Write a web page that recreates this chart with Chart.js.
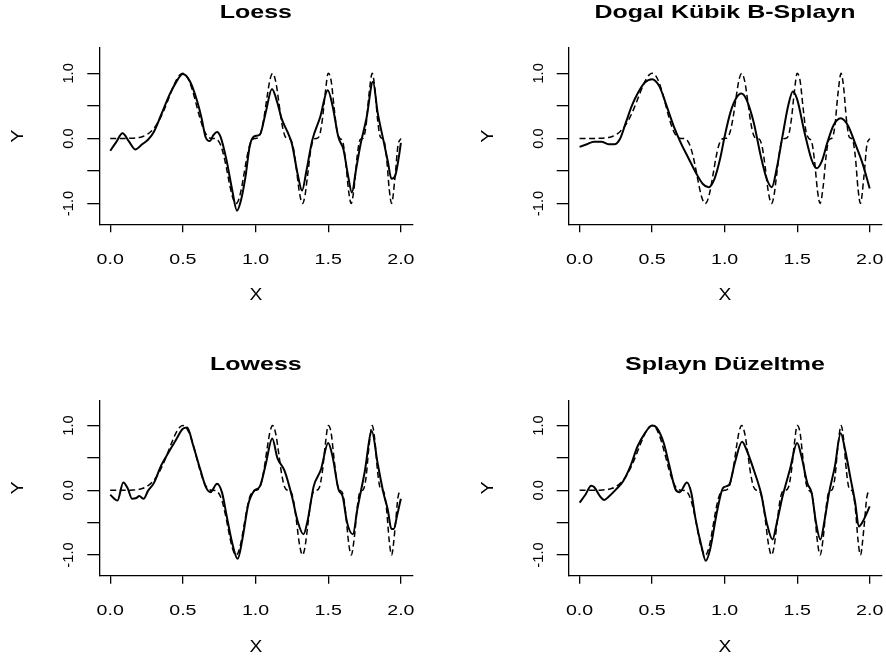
<!DOCTYPE html>
<html>
<head>
<meta charset="utf-8">
<script src="https://cdn.jsdelivr.net/npm/chart.js@4.4.1/dist/chart.umd.min.js"></script>
<style>
  html, body { margin: 0; padding: 0; background: #fff; }
  body { width: 886px; height: 661px; overflow: hidden; position: relative; }
  canvas { position: absolute; }
</style>
</head>
<body>
<script>
// axis ticks and labels
const xTicks = [0, 0.5, 1, 1.5, 2];
const xTickLabels = ['0.0', '0.5', '1.0', '1.5', '2.0'];
const yTicks = [-1, -0.5, 0, 0.5, 1];
const yLabelAt = [-1, 0, 1];
const yTickLabels = ['-1.0', '0.0', '1.0'];

// true curve (dashed), same in every panel
const trueX = [0, 0.02, 0.04, 0.06, 0.08, 0.1, 0.12, 0.14, 0.16, 0.18, 0.2, 0.22, 0.24, 0.26, 0.28, 0.3,
  0.32, 0.34, 0.36, 0.38, 0.4, 0.42, 0.44, 0.46, 0.48, 0.5, 0.52, 0.54, 0.56, 0.58, 0.6, 0.62, 0.64, 0.66,
  0.68, 0.7, 0.72, 0.74, 0.76, 0.78, 0.8, 0.82, 0.84, 0.86, 0.866, 0.88, 0.9, 0.92, 0.94, 0.96, 0.98, 1.0,
  1.02, 1.04, 1.06, 1.08, 1.1, 1.118, 1.14, 1.16, 1.18, 1.2, 1.22, 1.24, 1.26, 1.28, 1.3, 1.323, 1.34, 1.36,
  1.38, 1.4, 1.42, 1.44, 1.46, 1.48, 1.5, 1.52, 1.54, 1.56, 1.58, 1.6, 1.62, 1.64, 1.658, 1.68, 1.7, 1.72,
  1.74, 1.76, 1.78, 1.803, 1.82, 1.84, 1.86, 1.88, 1.9, 1.92, 1.936, 1.96, 1.98, 2.0];
const trueY = [0, 0, 0, 0, 0, 0, 0.001, 0.002, 0.004, 0.008, 0.015, 0.027, 0.044, 0.070, 0.106, 0.154,
  0.216, 0.293, 0.384, 0.489, 0.602, 0.717, 0.825, 0.916, 0.977, 1, 0.976, 0.902, 0.783, 0.629, 0.457, 0.292, 0.156, 0.061,
  0.013, 0, -0.002, -0.026, -0.103, -0.250, -0.457, -0.690, -0.888, -0.994, -1, -0.966, -0.804, -0.556, -0.298, -0.105, -0.015, 0,
  0.016, 0.118, 0.345, 0.648, 0.909, 1, 0.862, 0.561, 0.245, 0.050, 0, -0.013, -0.143, -0.446, -0.804, -1, -0.882, -0.533,
  -0.180, -0.015, 0, 0.045, 0.293, 0.704, 1, 0.889, 0.488, 0.121, 0.002, -0.050, -0.350, -0.801, -1, -0.724, -0.259, -0.017,
  0.005, 0.191, 0.661, 1, 0.790, 0.285, 0.016, -0.010, -0.259, -0.782, -1, -0.589, -0.110, 0];

// fitted curves (solid)
const loessX = [0, 0.04, 0.085, 0.13, 0.172, 0.22, 0.26, 0.3, 0.35, 0.41, 0.45, 0.5, 0.55, 0.6, 0.63, 0.655, 0.685,
  0.71, 0.735, 0.76, 0.8, 0.84, 0.872, 0.9, 0.93, 0.96, 0.99, 1.03, 1.07, 1.113, 1.15, 1.18, 1.22, 1.25, 1.29, 1.32,
  1.35, 1.39, 1.445, 1.497, 1.53, 1.57, 1.605, 1.635, 1.663, 1.69, 1.72, 1.765, 1.808, 1.84, 1.88, 1.91, 1.935, 1.96,
  1.985, 2.0];
const loessY = [-0.19, -0.06, 0.08, -0.05, -0.17, -0.09, -0.02, 0.10, 0.36, 0.68, 0.85, 0.99, 0.87, 0.56, 0.30, 0.03, -0.04,
  0.05, 0.10, 0.02, -0.33, -0.80, -1.11, -0.95, -0.60, -0.12, 0.03, 0.06, 0.40, 0.76, 0.55, 0.30, 0.10, -0.08, -0.55, -0.80,
  -0.50, -0.03, 0.33, 0.74, 0.50, 0.02, -0.17, -0.55, -0.83, -0.50, -0.12, 0.33, 0.87, 0.40, -0.03, -0.35, -0.62, -0.58,
  -0.30, -0.07];

const bsplX = [0, 0.05, 0.1, 0.15, 0.2, 0.24, 0.28, 0.32, 0.36, 0.4, 0.45, 0.5, 0.55, 0.6, 0.65, 0.7, 0.75, 0.8, 0.85,
  0.89, 0.93, 0.97, 1.0, 1.04, 1.08, 1.115, 1.15, 1.2, 1.25, 1.29, 1.325, 1.36, 1.4, 1.44, 1.47, 1.5, 1.55, 1.6, 1.635,
  1.67, 1.71, 1.75, 1.8, 1.85, 1.9, 1.95, 2.0];
const bsplY = [-0.13, -0.09, -0.05, -0.05, -0.09, -0.09, 0.0, 0.25, 0.50, 0.69, 0.86, 0.91, 0.80, 0.50, 0.18, -0.08, -0.30, -0.52, -0.70,
  -0.75, -0.62, -0.30, 0.03, 0.40, 0.62, 0.69, 0.60, 0.25, -0.28, -0.62, -0.75, -0.45, 0.05, 0.52, 0.72, 0.60, 0.10, -0.33, -0.46,
  -0.35, -0.05, 0.20, 0.31, 0.20, -0.08, -0.38, -0.77];

const lowessX = [0, 0.05, 0.09, 0.12, 0.15, 0.18, 0.2, 0.23, 0.26, 0.3, 0.35, 0.4, 0.45, 0.5, 0.53, 0.57, 0.62, 0.66, 0.69,
  0.735, 0.77, 0.8, 0.84, 0.877, 0.91, 0.95, 0.99, 1.03, 1.07, 1.115, 1.15, 1.2, 1.25, 1.29, 1.33, 1.36, 1.4, 1.45, 1.5,
  1.53, 1.57, 1.6, 1.63, 1.67, 1.7, 1.75, 1.8, 1.84, 1.88, 1.91, 1.935, 1.95, 1.975, 2.0];
const lowessY = [-0.07, -0.16, 0.12, 0.03, -0.13, -0.12, -0.09, -0.13, -0.01, 0.11, 0.38, 0.58, 0.77, 0.95, 0.97, 0.70, 0.32, 0.04, -0.03,
  0.10, -0.04, -0.38, -0.82, -1.06, -0.75, -0.22, -0.01, 0.06, 0.40, 0.80, 0.50, 0.30, -0.09, -0.48, -0.68, -0.45, 0.06, 0.32, 0.73,
  0.52, 0.02, -0.10, -0.50, -0.68, -0.30, 0.27, 0.91, 0.42, -0.04, -0.30, -0.60, -0.60, -0.38, -0.13];

const smoothX = [0, 0.04, 0.08, 0.1, 0.14, 0.17, 0.2, 0.25, 0.3, 0.35, 0.4, 0.45, 0.5, 0.53, 0.58, 0.62, 0.66, 0.69, 0.74,
  0.77, 0.8, 0.84, 0.87, 0.9, 0.95, 0.99, 1.03, 1.07, 1.12, 1.15, 1.2, 1.25, 1.29, 1.33, 1.36, 1.4, 1.45, 1.5, 1.53, 1.57,
  1.6, 1.63, 1.66, 1.69, 1.72, 1.76, 1.8, 1.83, 1.87, 1.9, 1.925, 1.96, 2.0];
const smoothY = [-0.19, -0.07, 0.07, 0.05, -0.09, -0.15, -0.10, 0.01, 0.14, 0.37, 0.68, 0.88, 1.0, 0.97, 0.73, 0.37, 0.02, -0.03, 0.12,
  -0.04, -0.45, -0.86, -1.09, -0.91, -0.30, 0.04, 0.08, 0.42, 0.75, 0.63, 0.32, -0.04, -0.50, -0.76, -0.50, -0.09, 0.32, 0.73, 0.52, 0.11,
  -0.04, -0.50, -0.76, -0.45, -0.04, 0.37, 0.88, 0.63, 0.16, -0.19, -0.56, -0.45, -0.25];

const FONT = '"Liberation Sans", Arial, Helvetica, sans-serif';

// page position of each canvas and of its plot box (left, top, right, bottom)
const panels = [
  { title: 'Loess', fx: loessX, fy: loessY, at: [0, 0], box: [99.3, 48, 412.5, 224.3] },
  { title: 'Dogal Kübik B-Splayn', fx: bsplX, fy: bsplY, at: [469, 0], box: [568.7, 48, 881.3, 224.3] },
  { title: 'Lowess', fx: lowessX, fy: lowessY, at: [0, 352], box: [99.3, 400.3, 412.5, 575.7] },
  { title: 'Splayn Düzeltme', fx: smoothX, fy: smoothY, at: [469, 352], box: [568.7, 400.3, 881.3, 575.7] }
];

const pts = (xs, ys) => xs.map((x, i) => ({ x, y: ys[i] }));

// draw a (possibly rotated, horizontally widened) string
function put(ctx, text, px, py, rot, font, sx) {
  ctx.save();
  ctx.translate(px, py);
  ctx.rotate(rot);
  ctx.scale(sx, 1);
  ctx.font = font;
  ctx.textAlign = 'center';
  ctx.textBaseline = 'alphabetic';
  ctx.fillText(text, 0, 0);
  ctx.restore();
}

// R-style labels placed from the chart's own scales
const rText = {
  id: 'rText',
  afterDraw(chart, args, opts) {
    const { ctx, chartArea: a, scales: { x, y } } = chart;
    ctx.save();
    ctx.fillStyle = '#000';
    put(ctx, opts.title, (a.left + a.right) / 2, a.top - 30.5, 0, 'bold 18.5px ' + FONT, 1.35);
    xTicks.forEach((v, i) => put(ctx, xTickLabels[i], x.getPixelForValue(v), a.bottom + 39.5, 0, '14px ' + FONT, 1.4));
    yLabelAt.forEach((v, i) => put(ctx, yTickLabels[i], a.left - 26, y.getPixelForValue(v), -Math.PI / 2, '14px ' + FONT, 1.05));
    put(ctx, 'X', (a.left + a.right) / 2, a.bottom + 76, 0, '16px ' + FONT, 1.2);
    put(ctx, 'Y', a.left - 76, (a.top + a.bottom) / 2, -Math.PI / 2, '16.5px ' + FONT, 1.2);
    ctx.restore();
  }
};

const W = 443, H = 330;

panels.forEach(p => {
  const cv = document.createElement('canvas');
  cv.width = W; cv.height = H;
  cv.style.left = p.at[0] + 'px';
  cv.style.top = p.at[1] + 'px';
  document.body.appendChild(cv);

  const [L, T, R, B] = p.box;
  const pad = { left: L - p.at[0], top: T - p.at[1], right: W - (R - p.at[0]), bottom: H - (B - p.at[1]) };

  new Chart(cv.getContext('2d'), {
    type: 'line',
    data: {
      datasets: [
        { data: pts(trueX, trueY), borderColor: '#000', borderWidth: 1.5, borderDash: [6, 3.5],
          pointRadius: 0, cubicInterpolationMode: 'monotone', fill: false },
        { data: pts(p.fx, p.fy), borderColor: '#000', borderWidth: 2,
          pointRadius: 0, cubicInterpolationMode: 'monotone', fill: false }
      ]
    },
    options: {
      responsive: false,
      animation: false,
      devicePixelRatio: 1,
      layout: { padding: pad },
      plugins: { legend: { display: false }, tooltip: { enabled: false }, title: { display: false }, rText: { title: p.title } },
      scales: {
        x: {
          type: 'linear', min: -0.075, max: 2.08,
          afterBuildTicks: s => { s.ticks = xTicks.map(v => ({ value: v })); },
          afterFit: s => { s.height = 0; },
          ticks: { display: false },
          grid: { drawOnChartArea: false, drawTicks: true, tickLength: 8, color: '#000', lineWidth: 1.3 },
          border: { display: true, color: '#000', width: 1.3 }
        },
        y: {
          type: 'linear', min: -1.32, max: 1.39,
          afterBuildTicks: s => { s.ticks = yTicks.map(v => ({ value: v })); },
          afterFit: s => { s.width = 0; },
          ticks: { display: false },
          grid: { drawOnChartArea: false, drawTicks: true, tickLength: 12, color: '#000', lineWidth: 1.3 },
          border: { display: true, color: '#000', width: 1.3 }
        }
      }
    },
    plugins: [rText]
  });
});
</script>
</body>
</html>
